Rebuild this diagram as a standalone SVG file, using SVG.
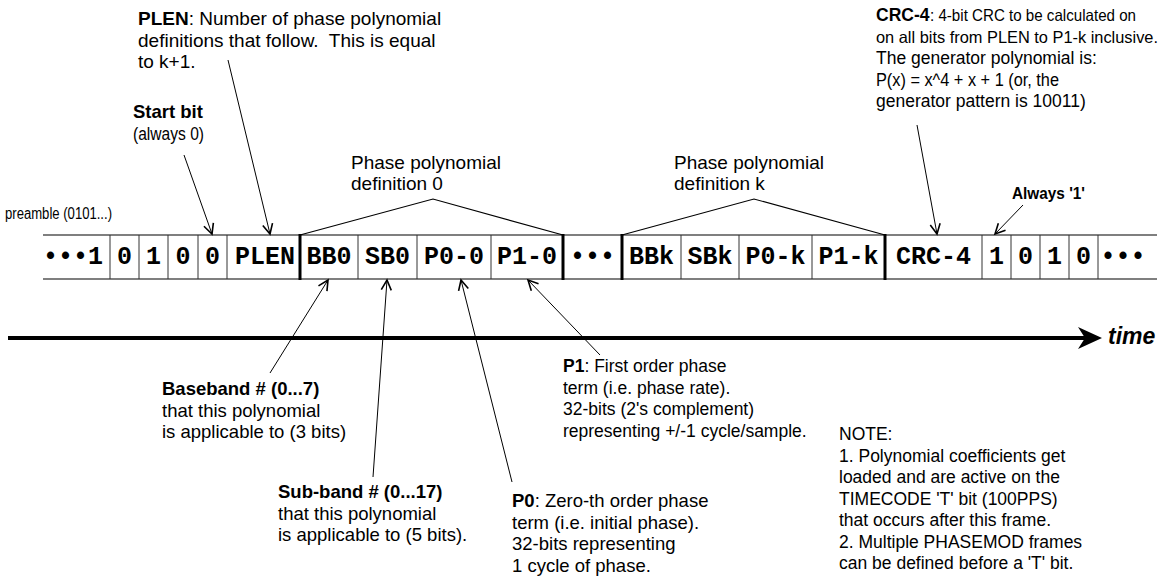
<svg xmlns="http://www.w3.org/2000/svg" width="1165" height="578" viewBox="0 0 1165 578">
<style>
.t{font-family:"Liberation Sans",Arial,sans-serif;font-size:18.5px;fill:#000}
.b{font-weight:bold}
.m{font-family:"Liberation Mono","Courier New",monospace;font-weight:bold;font-size:25px;text-anchor:middle;fill:#000}
.ln{stroke:#000;stroke-width:1.2;fill:none}
.sep{stroke:#333;stroke-width:1}
.thk{stroke:#000;stroke-width:3}
.ar{stroke:#000;stroke-width:1;fill:none;marker-end:url(#ah)}
.s17{font-size:17.5px}
.s16{font-size:16.5px}
</style>
<defs>
<marker id="ah" markerUnits="userSpaceOnUse" markerWidth="14" markerHeight="14" refX="11" refY="6" orient="auto" viewBox="0 0 14 12">
<path d="M1,1 L11,6 L1,11" fill="none" stroke="#000" stroke-width="1.6"/>
</marker>
</defs>
<rect width="1165" height="578" fill="#fff"/>

<g id="frame">
<line class="ln" x1="43" y1="235" x2="1157" y2="235"/>
<line class="ln" x1="43" y1="279" x2="1157" y2="279"/>
<g class="sep">
<line x1="110" y1="235" x2="110" y2="279"/>
<line x1="139" y1="235" x2="139" y2="279"/>
<line x1="168" y1="235" x2="168" y2="279"/>
<line x1="198" y1="235" x2="198" y2="279"/>
<line x1="227" y1="235" x2="227" y2="279"/>
<line x1="358" y1="235" x2="358" y2="279"/>
<line x1="417" y1="235" x2="417" y2="279"/>
<line x1="491" y1="235" x2="491" y2="279"/>
<line x1="681" y1="235" x2="681" y2="279"/>
<line x1="739" y1="235" x2="739" y2="279"/>
<line x1="812" y1="235" x2="812" y2="279"/>
<line x1="982" y1="235" x2="982" y2="279"/>
<line x1="1011" y1="235" x2="1011" y2="279"/>
<line x1="1040" y1="235" x2="1040" y2="279"/>
<line x1="1069" y1="235" x2="1069" y2="279"/>
<line x1="1098" y1="235" x2="1098" y2="279"/>
</g>
<g class="thk">
<line x1="300" y1="234" x2="300" y2="280"/>
<line x1="563" y1="234" x2="563" y2="280"/>
<line x1="622" y1="234" x2="622" y2="280"/>
<line x1="885" y1="234" x2="885" y2="280"/>
</g>
</g>

<g id="cells">
<text class="m" x="73" y="264">•••1</text>
<text class="m" x="124.5" y="264">0</text>
<text class="m" x="153.5" y="264">1</text>
<text class="m" x="183" y="264">0</text>
<text class="m" x="212.5" y="264">0</text>
<text class="m" x="265" y="264">PLEN</text>
<text class="m" x="329" y="264">BB0</text>
<text class="m" x="387.5" y="264">SB0</text>
<text class="m" x="454" y="264">P0-0</text>
<text class="m" x="527" y="264">P1-0</text>
<text class="m" x="592.5" y="264">•••</text>
<text class="m" x="651.5" y="264">BBk</text>
<text class="m" x="710" y="264">SBk</text>
<text class="m" x="775.5" y="264">P0-k</text>
<text class="m" x="848.5" y="264">P1-k</text>
<text class="m" x="933.5" y="264">CRC-4</text>
<text class="m" x="996.5" y="264">1</text>
<text class="m" x="1025.5" y="264">0</text>
<text class="m" x="1054.5" y="264">1</text>
<text class="m" x="1083.5" y="264">0</text>
<text class="m" x="1123" y="264">•••</text>
</g>

<g id="brackets">
<polyline class="ln" points="300,235 433,199 563,235"/>
<polyline class="ln" points="622,235 754,199 885,235"/>
</g>

<g id="connectors">
<line class="ar" x1="184" y1="155" x2="212" y2="234"/>
<line class="ar" x1="228" y1="60" x2="270" y2="234"/>
<line class="ar" x1="917" y1="125" x2="937" y2="234"/>
<line class="ar" x1="1023" y1="205" x2="995" y2="234"/>
<line class="ar" x1="270" y1="373" x2="328" y2="280"/>
<line class="ar" x1="373" y1="477" x2="387" y2="280"/>
<line class="ar" x1="512" y1="482" x2="461" y2="280"/>
<line class="ar" x1="600" y1="355" x2="528" y2="280"/>
</g>

<g id="timeline">
<line x1="8" y1="338" x2="1085" y2="338" stroke="#000" stroke-width="4"/>
<path d="M1102,338 L1078,327 L1085,338 L1078,349 Z" fill="#000"/>
<text x="1108" y="344" style="font-family:'Liberation Sans',Arial,sans-serif;font-size:23px;font-weight:bold;font-style:italic">time</text>
</g>

<g id="label-plen">
<text class="t" style="font-size:19px" x="138" y="25"><tspan class="b">PLEN</tspan>: Number of phase polynomial</text>
<text class="t" style="font-size:19px" x="138" y="46.5" xml:space="preserve">definitions that follow.  This is equal</text>
<text class="t" style="font-size:19px" x="138" y="68">to k+1.</text>
</g>
<g id="label-start">
<text class="t b" x="133" y="118">Start bit</text>
<text class="t s17" x="133" y="140" textLength="71" lengthAdjust="spacingAndGlyphs">(always 0)</text>
</g>
<g id="label-preamble">
<text class="t" style="font-size:16px" x="5" y="219" textLength="107" lengthAdjust="spacingAndGlyphs">preamble (0101...)</text>
</g>
<g id="label-def0">
<text class="t" style="font-size:19px" x="351" y="169">Phase polynomial</text>
<text class="t" style="font-size:19px" x="351" y="190">definition 0</text>
</g>
<g id="label-defk">
<text class="t" style="font-size:19px" x="674" y="169">Phase polynomial</text>
<text class="t" style="font-size:19px" x="674" y="190">definition k</text>
</g>
<g id="label-crc">
<text class="t b s17" x="876" y="21">CRC-4</text>
<text class="t s16" x="930" y="21" textLength="206" lengthAdjust="spacingAndGlyphs">: 4-bit CRC to be calculated on</text>
<text class="t s16" x="876" y="42.5" textLength="282" lengthAdjust="spacingAndGlyphs">on all bits from PLEN to P1-k inclusive.</text>
<text class="t s17" x="876" y="64">The generator polynomial is:</text>
<text class="t s17" x="876" y="85.5" textLength="183" lengthAdjust="spacingAndGlyphs">P(x) = x^4 + x + 1 (or, the</text>
<text class="t s17" x="876" y="107">generator pattern is 10011)</text>
</g>
<g id="label-always">
<text class="t b" style="font-size:16.5px" x="1012" y="199" textLength="73" lengthAdjust="spacingAndGlyphs">Always '1'</text>
</g>
<g id="label-baseband">
<text class="t b" x="162" y="395">Baseband # (0...7)</text>
<text class="t" x="162" y="417">that this polynomial</text>
<text class="t" x="162" y="438">is applicable to (3 bits)</text>
</g>
<g id="label-subband">
<text class="t b" x="278" y="498">Sub-band # (0...17)</text>
<text class="t" x="278" y="520">that this polynomial</text>
<text class="t" x="278" y="541">is applicable to (5 bits).</text>
</g>
<g id="label-p0">
<text class="t" x="512" y="507"><tspan class="b">P0</tspan>: Zero-th order phase</text>
<text class="t" x="512" y="528.5">term (i.e. initial phase).</text>
<text class="t" x="512" y="550">32-bits representing</text>
<text class="t" x="512" y="571.5">1 cycle of phase.</text>
</g>
<g id="label-p1">
<text class="t s17" x="563" y="372"><tspan class="b">P1</tspan>: First order phase</text>
<text class="t s17" x="563" y="393.5">term (i.e. phase rate).</text>
<text class="t s17" x="563" y="415">32-bits (2's complement)</text>
<text class="t s17" x="563" y="436.5">representing +/-1 cycle/sample.</text>
</g>
<g id="label-note">
<text class="t s17" x="839" y="440">NOTE:</text>
<text class="t s17" x="839" y="461.5">1. Polynomial coefficients get</text>
<text class="t s17" x="839" y="483">loaded and are active on the</text>
<text class="t s17" x="839" y="504.5">TIMECODE 'T' bit (100PPS)</text>
<text class="t s17" x="839" y="526">that occurs after this frame.</text>
<text class="t s17" x="839" y="547.5">2. Multiple PHASEMOD frames</text>
<text class="t s17" x="839" y="569">can be defined before a 'T' bit.</text>
</g>
</svg>
